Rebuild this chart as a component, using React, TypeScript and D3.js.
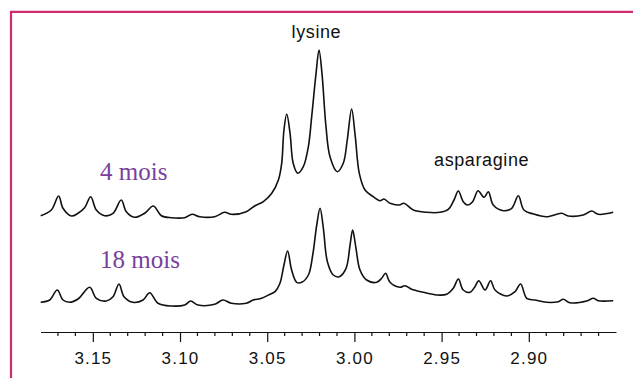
import * as d3 from 'd3';
import React, { useEffect, useRef } from 'react';

// chemical shift (ppm) and intensity (a.u.)
const ppm4 = [3.1799, 3.1738, 3.1696, 3.1671, 3.1623, 3.1585, 3.1547, 3.1512, 3.148, 3.1432, 3.1384, 3.1337, 3.1308, 3.126, 3.1203, 3.1153, 3.1107, 3.105, 3.0973, 3.0931, 3.0887, 3.0801, 3.0744, 3.0706, 3.062, 3.057, 3.0522, 3.0474, 3.0436, 3.0417, 3.0404, 3.0388, 3.0369, 3.0351, 3.0325, 3.0293, 3.0264, 3.0245, 3.022, 3.0203, 3.0186, 3.0163, 3.014, 3.0098, 3.0064, 3.0041, 3.0016, 2.9995, 2.9972, 2.9939, 2.9892, 2.9853, 2.983, 2.9796, 2.9743, 2.9716, 2.9662, 2.9586, 2.9509, 2.9462, 2.9429, 2.9404, 2.9376, 2.9353, 2.9322, 2.9291, 2.9257, 2.9232, 2.9204, 2.9146, 2.9098, 2.906, 2.9028, 2.8974, 2.8898, 2.8812, 2.8774, 2.8688, 2.8639, 2.8602, 2.8516];
const int4 = [2.3, 8, 22, 9.7, 2, 4.7, 10.3, 21.3, 8, 2.3, 4.7, 18, 6.3, 0.7, 4.7, 12, 2.3, 0.3, 0.3, 3.7, 1.3, 1.3, 5.7, 3.7, 6.3, 12.3, 16.3, 24.7, 38, 54.7, 88, 104, 84.7, 54.7, 44.7, 51.3, 71.3, 101.3, 144.7, 168, 144.7, 91.3, 61.3, 46.3, 54.7, 78, 109, 81.3, 44.7, 28, 21.3, 17.3, 19, 14.7, 13, 14.7, 8, 5.7, 5.7, 8.7, 18, 27, 16.3, 13, 16.3, 27.3, 20.7, 26.3, 13, 7.3, 9.7, 22.3, 8, 4, 1.3, 4.7, 2, 3, 7, 3.7, 5.7];

const ppm18 = [3.1799, 3.1747, 3.1704, 3.1671, 3.1633, 3.1585, 3.1518, 3.148, 3.1423, 3.1384, 3.135, 3.1321, 3.127, 3.1212, 3.1174, 3.1126, 3.105, 3.0973, 3.0939, 3.0897, 3.0801, 3.0754, 3.0706, 3.062, 3.058, 3.0532, 3.0484, 3.0455, 3.0427, 3.0404, 3.0383, 3.036, 3.0331, 3.0302, 3.0264, 3.0239, 3.0216, 3.0197, 3.0178, 3.0155, 3.0121, 3.0087, 3.0048, 3.0025, 3.001, 2.9991, 2.9968, 2.993, 2.9872, 2.9844, 2.9821, 2.9796, 2.9739, 2.971, 2.9672, 2.9605, 2.9528, 2.9471, 2.9433, 2.9404, 2.9376, 2.9337, 2.9309, 2.9287, 2.9251, 2.9219, 2.9194, 2.9127, 2.9079, 2.9047, 2.9012, 2.8965, 2.8898, 2.8831, 2.8802, 2.8764, 2.8668, 2.863, 2.8602, 2.8516];
const int18 = [3.7, 6, 16, 6, 3.7, 7, 18.7, 7.7, 5, 9.3, 22, 9.3, 3.7, 6, 13.3, 2.7, 0, 1, 5, 1, 1.7, 6, 2.7, 2.7, 6, 7.7, 11.7, 14.3, 22.7, 41, 55, 36, 23.7, 23.7, 31, 51, 81, 97.7, 77.7, 44.3, 31, 29.3, 37.7, 61, 76, 57.7, 36, 26, 23.7, 27.7, 32.7, 23.7, 18.7, 20.3, 16.7, 13.7, 11, 11.7, 17.7, 27, 16, 13.7, 19.3, 25.3, 16, 25.3, 16, 10, 14.3, 22, 7.7, 6, 3.7, 4.3, 6.7, 3.3, 5, 7.7, 5.3, 5.3];

const seriesLabels = ['4 mois', '18 mois'];
const peakLabels = ['lysine', 'asparagine'];
const peakPpm = [3.0195, 2.9265];

const App = () => {
  const ref = useRef<SVGSVGElement>(null);

  useEffect(() => {
    const svg = d3.select(ref.current);
    svg.selectAll('*').remove();

    const x = d3.scaleLinear().domain([3.18, 2.85]).range([40.5, 616]);
    const y = d3.scaleLinear().domain([0, 170]).range([170, 0]);

    // frame
    svg.append('path')
      .attr('d', 'M11,378 V11.8 H633')
      .attr('fill', 'none')
      .attr('stroke', '#cf2c6d')
      .attr('stroke-width', 2.2);

    const line = d3.line<[number, number]>()
      .x(d => x(d[0]))
      .y(d => y(d[1]))
      .curve(d3.curveCatmullRom.alpha(0.5));

    const traces = [
      { p: ppm4, v: int4, top: 218 - 170, label: seriesLabels[0], ly: 180 },
      { p: ppm18, v: int18, top: 306 - 170, label: seriesLabels[1], ly: 267.5 },
    ];

    traces.forEach(t => {
      svg.append('path')
        .datum(t.p.map((d, i) => [d, t.v[i]] as [number, number]))
        .attr('transform', `translate(0,${t.top})`)
        .attr('d', line)
        .attr('fill', 'none')
        .attr('stroke', '#111')
        .attr('stroke-width', 1.6)
        .attr('stroke-linejoin', 'round');

      svg.append('text')
        .attr('x', 100)
        .attr('y', t.ly)
        .attr('font-family', '"Liberation Serif", serif')
        .attr('font-size', 25)
        .attr('fill', '#7a3f9c')
        .text(t.label);
    });

    svg.append('text')
      .attr('x', x(peakPpm[0]) - 4)
      .attr('y', 38)
      .attr('text-anchor', 'middle')
      .attr('font-family', '"Liberation Sans", Arial, sans-serif')
      .attr('font-size', 18)
      .attr('letter-spacing', 0.6)
      .attr('fill', '#111')
      .text(peakLabels[0]);

    svg.append('text')
      .attr('x', x(peakPpm[1]) - 1)
      .attr('y', 165.5)
      .attr('text-anchor', 'middle')
      .attr('font-family', '"Liberation Sans", Arial, sans-serif')
      .attr('font-size', 18)
      .attr('letter-spacing', 0.6)
      .attr('fill', '#111')
      .text(peakLabels[1]);

    // axis: labelled ticks every 0.05 ppm, short ticks every 0.01 ppm
    const allTicks = d3.range(286, 318).map(v => v / 100);
    const majorTicks = allTicks.filter(v => Math.round(v * 100) % 5 === 0);
    const minorTicks = allTicks.filter(v => Math.round(v * 100) % 5 !== 0);

    const gAxis = svg.append('g').attr('transform', 'translate(0,332)');
    gAxis.call(
      d3.axisBottom(x)
        .tickValues(majorTicks)
        .tickSize(10)
        .tickSizeOuter(0)
        .tickPadding(10)
        .tickFormat(d3.format('.2f'))
    );
    gAxis.selectAll('.minor')
      .data(minorTicks)
      .enter()
      .append('line')
      .attr('class', 'minor')
      .attr('x1', d => x(d))
      .attr('x2', d => x(d))
      .attr('y1', 0)
      .attr('y2', 4)
      .attr('stroke', '#111')
      .attr('stroke-width', 1.2);
    gAxis.select('.domain').attr('stroke', '#111').attr('stroke-width', 1.2);
    gAxis.selectAll('.tick line').attr('stroke', '#111').attr('stroke-width', 1.2);
    gAxis.selectAll('.tick text')
      .attr('font-family', '"Liberation Sans", Arial, sans-serif')
      .attr('font-size', 17)
      .attr('letter-spacing', 1.2)
      .attr('fill', '#111');
  }, []);

  return (
    <svg ref={ref} width={633} height={378} style={{ position: 'absolute', left: 0, top: 0, background: '#fff' }}></svg>
  );
};

export default App;
